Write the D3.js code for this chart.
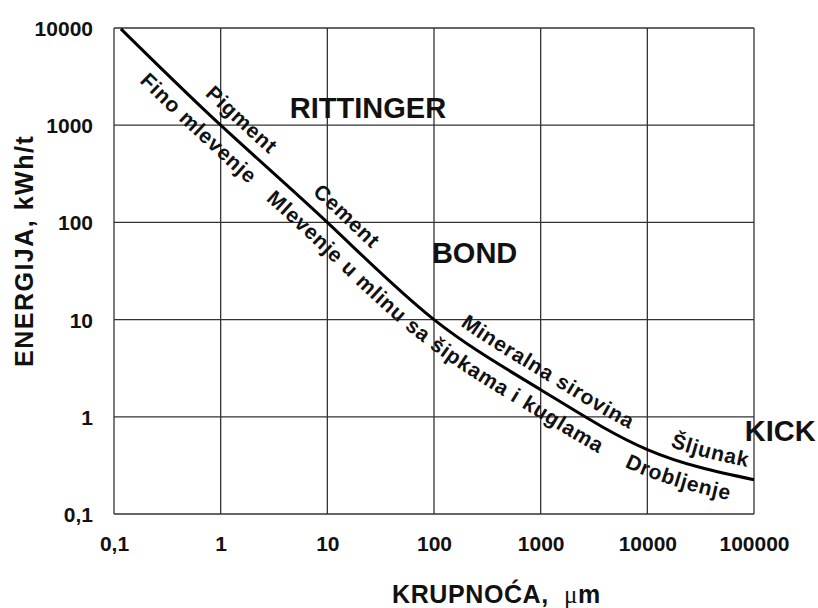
<!DOCTYPE html>
<html>
<head>
<meta charset="utf-8">
<script src="https://cdn.jsdelivr.net/npm/d3@7"></script>
<style>
    body { margin: 0; background: #fff; }
    svg { display: block; font-family: "Liberation Sans", Arial, sans-serif; font-weight: bold; }
</style>
</head>
<body>
<div id="chart"></div>
<script>
    // values (particle size in um, energy in kWh/t)
    var sizeUm = [0.116, 1, 10, 100, 1000, 10000, 100000];
    var energy = [9800, 1000, 100, 10, 1.9, 0.46, 0.225];

    var xTicks = [0.1, 1, 10, 100, 1000, 10000, 100000];
    var yTicks = [0.1, 1, 10, 100, 1000, 10000];

    // labels written along the curve: side of the curve and where they start (size in um)
    var curveLabels = ['Fino mlevenje', 'Pigment', 'Cement', 'Mlevenje u mlinu sa šipkama i kuglama',
        'Mineralna sirovina', 'Drobljenje', 'Šljunak'];
    var curveLabelSide = ['below', 'above', 'above', 'below', 'above', 'below', 'above'];
    var curveLabelStart = [0.25, 0.6, 6.2, 3.8, 152, 7800, 14800];

    // law names placed in the plot
    var lawNames = ['RITTINGER', 'BOND', 'KICK'];
    var lawSize = [4.45, 95.6, 82000];
    var lawEnergy = [1190, 38.4, 0.567];

    var width = 818, height = 608;

    var svg = d3.select('#chart').append('svg')
        .attr('width', width)
        .attr('height', height);

    var x = d3.scaleLog().domain([0.1, 100000]).range([114, 754]);
    var y = d3.scaleLog().domain([0.1, 10000]).range([514, 28]);

    var fmt = function (d) { return d < 1 ? String(d).replace('.', ',') : String(d); };

    // grid
    var grid = svg.append('g').attr('stroke', '#333').attr('stroke-width', 1.3);
    grid.selectAll('.vx').data(xTicks).enter().append('line')
        .attr('x1', function (d) { return x(d); }).attr('x2', function (d) { return x(d); })
        .attr('y1', y(0.1)).attr('y2', y(10000));
    grid.selectAll('.hy').data(yTicks).enter().append('line')
        .attr('y1', function (d) { return y(d); }).attr('y2', function (d) { return y(d); })
        .attr('x1', x(0.1)).attr('x2', x(100000));

    // tick labels through the axes
    var xAxis = svg.append('g')
        .attr('transform', 'translate(0,' + y(0.1) + ')')
        .call(d3.axisBottom(x).tickValues(xTicks).tickFormat(fmt).tickSize(0).tickPadding(22));
    var yAxis = svg.append('g')
        .attr('transform', 'translate(' + x(0.1) + ',0)')
        .call(d3.axisLeft(y).tickValues(yTicks).tickFormat(fmt).tickSize(0).tickPadding(21));
    [xAxis, yAxis].forEach(function (a) {
        a.select('.domain').remove();
        a.selectAll('text').attr('font-size', 21).attr('font-family', 'Liberation Sans, Arial, sans-serif')
            .attr('font-weight', 'bold').attr('fill', '#111');
    });
    xAxis.selectAll('text').attr('dy', '0.71em');
    yAxis.selectAll('text').attr('dy', '0.36em');

    // the curve
    var pts = sizeUm.map(function (d, i) { return [d, energy[i]]; });
    var line = d3.line()
        .x(function (d) { return x(d[0]); })
        .y(function (d) { return y(d[1]); })
        .curve(d3.curveNatural);

    var curve = svg.append('path')
        .datum(pts)
        .attr('d', line)
        .attr('fill', 'none')
        .attr('stroke', '#000')
        .attr('stroke-width', 3);

    /**
     * Build offset copies of the curve to hang the text on. Positive distance goes below-left of the curve,
     * negative goes above-right.
     */
    var node = curve.node();
    var total = node.getTotalLength();
    var samples = d3.range(0, total, 2).concat([total]).map(function (l) { return node.getPointAtLength(l); });

    var offsetCurve = function (dist) {
        var out = samples.map(function (p, i) {
            var a = samples[Math.max(i - 1, 0)], b = samples[Math.min(i + 1, samples.length - 1)];
            var dx = b.x - a.x, dy = b.y - a.y, len = Math.hypot(dx, dy);
            return [p.x - dy / len * dist, p.y + dx / len * dist];
        });
        var cum = [0];
        for (var i = 1; i < out.length; i++) {
            cum.push(cum[i - 1] + Math.hypot(out[i][0] - out[i - 1][0], out[i][1] - out[i - 1][1]));
        }
        return { pts: out, cum: cum };
    };

    var offsets = { below: offsetCurve(25), above: offsetCurve(-11) };
    var defs = svg.append('defs');
    Object.keys(offsets).forEach(function (k) {
        defs.append('path').attr('id', 'path-' + k).attr('d', 'M' + offsets[k].pts.join('L'));
    });

    var startOffset = function (side, value) {
        var px = x(value);
        var idx = d3.minIndex(samples, function (p) { return Math.abs(p.x - px); });
        return offsets[side].cum[idx];
    };

    svg.append('g').selectAll('text')
        .data(curveLabels)
        .enter()
        .append('text')
        .attr('font-size', 21)
        .attr('letter-spacing', 0.8)
        .attr('fill', '#111')
        .append('textPath')
        .attr('href', function (d, i) { return '#path-' + curveLabelSide[i]; })
        .attr('startOffset', function (d, i) { return startOffset(curveLabelSide[i], curveLabelStart[i]); })
        .text(function (d) { return d; });

    // law names
    svg.append('g').selectAll('text')
        .data(lawNames)
        .enter()
        .append('text')
        .attr('x', function (d, i) { return x(lawSize[i]); })
        .attr('y', function (d, i) { return y(lawEnergy[i]); })
        .attr('font-size', 29)
        .attr('fill', '#111')
        .text(function (d) { return d; });

    // axis titles
    svg.append('text')
        .attr('transform', 'translate(33,367) rotate(-90)')
        .attr('font-size', 25)
        .attr('letter-spacing', 1.5)
        .attr('fill', '#111')
        .text('ENERGIJA, kWh/t');

    var xt = svg.append('text')
        .attr('x', 392)
        .attr('y', 603)
        .attr('font-size', 25)
        .attr('letter-spacing', 0.6)
        .attr('fill', '#111')
        .style('white-space', 'pre');
    xt.append('tspan').text('KRUPNOĆA,  ');
    xt.append('tspan').attr('font-family', 'Liberation Serif, serif').attr('font-weight', 'normal').text('μ');
    xt.append('tspan').text('m');
</script>
</body>
</html>
